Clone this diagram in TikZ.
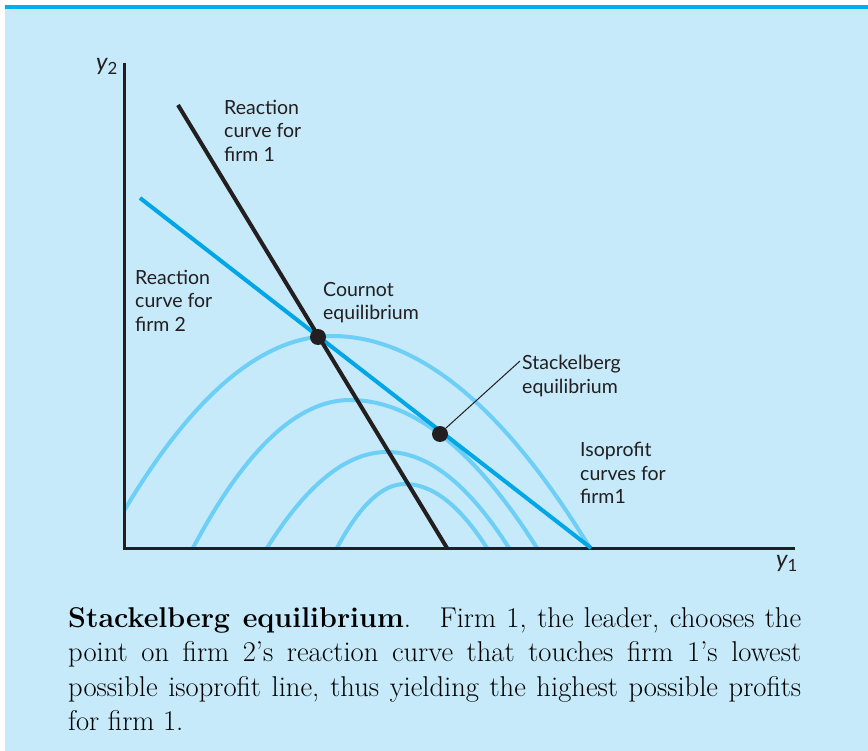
\documentclass[tikz,border=0pt]{standalone}
\usepackage{fontspec}
\newfontfamily\labelfont{Lato}
\definecolor{bgblue}{HTML}{C6EAF9}
\definecolor{barblue}{HTML}{00AEEF}
\definecolor{rblue}{HTML}{00A6E6}
\definecolor{isoblue}{HTML}{6DCFF6}
\definecolor{ink}{HTML}{231F20}
\tikzset{
  axisline/.style={ink, line width=3pt},
  reactone/.style={ink, line width=4pt},
  reacttwo/.style={rblue, line width=4pt},
  iso/.style={isoblue, line width=4pt},
  lab/.style={anchor=north west, inner sep=0pt, align=left, text=ink,
     font=\labelfont\fontsize{19.5}{23.5}\selectfont},
  axlab/.style={anchor=north west, inner sep=0pt, text=ink,
     font=\labelfont\fontsize{24}{26}\selectfont},
  eqdot/.style={circle, fill=ink, minimum size=16pt, inner sep=0pt},
}
\begin{document}
\begin{tikzpicture}[x=1pt, y=-1pt]
\useasboundingbox (0,0) rectangle (868,751);
\fill[white] (0,0) rectangle (868,751);
\fill[bgblue] (5,9) rectangle (868,751);
\fill[barblue] (5,5) rectangle (868,9.5);

% isoprofit curves
\begin{scope}
\clip (124,0) rectangle (868,548);
\draw[iso] (103,548) .. controls (179.3,406.7) and (255.7,336) .. (332,336)
                     .. controls (418,336) and (504,406.7) .. (590,548);
\draw[iso] (193,548) .. controls (245.3,449.3) and (297.7,400) .. (350,400)
                     .. controls (412.3,400) and (474.7,449.3) .. (537,548);
\draw[iso] (267,548) .. controls (307,484) and (347,452) .. (387,452)
                     .. controls (427.7,452) and (468.3,484) .. (509,548);
\draw[iso] (337,548) .. controls (359.7,505.3) and (382.3,484) .. (405,484)
                     .. controls (432.3,484) and (459.7,505.3) .. (487,548);
\end{scope}

% axes
\coordinate (ytop) at (124,63);
\coordinate (origin) at (124,548);
\coordinate (xend) at (795,548);
\draw[axisline] (ytop) -- (origin) -- (xend);

% reaction curves
\coordinate (r1a) at (178,105);
\coordinate (r1b) at (447,548);
\coordinate (r2a) at (140,198);
\coordinate (r2b) at (591,548);
\draw[reacttwo] (r2a) -- (r2b);
\draw[reactone] (r1a) -- (r1b);

% equilibrium points
\node[eqdot] (cournot) at (318,337) {};
\node[eqdot] (stack) at (440,434) {};

% labels
\node[axlab] (ylab) at (96,58) {\itshape y\textsubscript{\upshape 2}};
\node[axlab] (xlab) at (776,555) {\itshape y\textsubscript{\upshape 1}};
\node[lab] (r1lab) at (224,100) {Reaction\\curve for\\firm 1};
\node[lab] (r2lab) at (135,270) {Reaction\\curve for\\firm 2};
\node[lab] (clab) at (323,282) {Cournot\\equilibrium};
\node[lab] (slab) at (522,355) {Stackelberg\\equilibrium};
\node[lab] (ilab) at (580,442) {Isoprofit\\curves for\\firm1};
\coordinate (lead) at (520,361);
\draw[ink, line width=1pt] (stack.north east) -- (lead);

% caption
\node[anchor=north west, inner sep=0pt, text width=733pt, align=justify,
      font=\fontsize{28.6}{34.5}\selectfont, text=black] (caption) at (68,607)
  {\textbf{Stackelberg equilibrium}.\quad Firm 1, the leader, chooses the\linebreak point on firm 2's reaction curve that touches firm 1's lowest\linebreak possible isoprofit line, thus yielding the highest possible profits\linebreak for firm 1.};
\end{tikzpicture}
\end{document}
